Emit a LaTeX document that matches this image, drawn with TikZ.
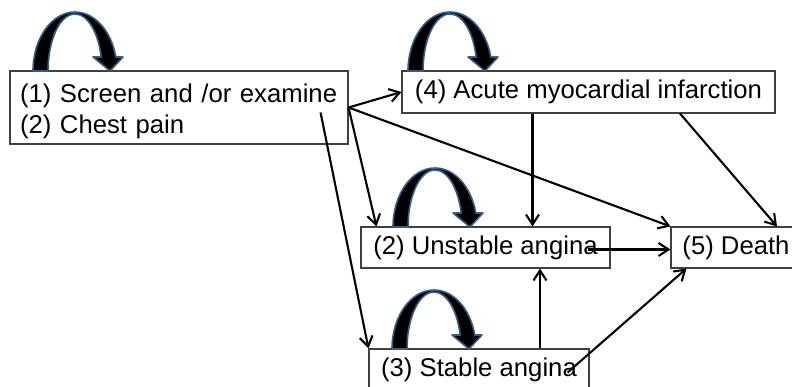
\documentclass[tikz,border=0pt]{standalone}
\usepackage{fontspec}
\setmainfont{Liberation Sans}
\usetikzlibrary{arrows.meta}
\definecolor{loopedge}{RGB}{56,93,138}
\definecolor{boxedge}{RGB}{64,64,64}

\begin{document}
\begin{tikzpicture}[x=1pt, y=-1pt,
  estado/.style={draw=boxedge, line width=1.1pt, inner sep=0pt, minimum height=41pt, font=\fontsize{25.7}{31}\selectfont},
  flujo/.style={-{Straight Barb[length=10pt, width=13pt]}, line width=2.1pt},
  loopfill/.style={fill=black, draw=loopedge, line width=1.6pt, line join=round},
  selfloop/.pic={\filldraw[loopfill] (0,0) arc[start angle=180, end angle=346.3, x radius=42, y radius=59] -- (90,-14) -- (77,0) -- (60,-14) -- (68.2,-14) arc[start angle=345.8, end angle=180, x radius=27, y radius=57] -- cycle;}]
\useasboundingbox (0,0) rectangle (792,387);
\clip (0,0) rectangle (792,387);
\node[estado, minimum height=73pt, text width=318pt, inner xsep=10pt, align=left] (cribado) at (179,107.5) {\rule{0pt}{27pt}(1) Screen and /or examine\\(2) Chest pain};
\node[estado, minimum width=373pt, minimum height=42pt] (infarto) at (588.5,92) {(4) Acute myocardial infarction};
\node[estado, minimum width=249pt] (inestable) at (485.5,247.5) {(2) Unstable angina};
\node[estado, minimum width=130pt] (muerte) at (736,247.5) {(5) Death};
\node[estado, minimum width=220pt] (estable) at (479,369.5) {(3) Stable angina};
\pic at (33,71) {selfloop};
\pic at (408,71) {selfloop};
\pic at (393,227) {selfloop};
\pic at (392,349) {selfloop};
\draw[flujo] (cribado.east) -- (infarto.west);
\draw[flujo] (cribado.east) -- (muerte.north west);
\draw[flujo] (cribado.east) -- ([xshift=16pt]inestable.north west);
\draw[flujo] ([xshift=-28pt, yshift=-5pt]cribado.east) -- (estable.north west);
\draw[flujo] ([xshift=-56pt]infarto.south) -- ([xshift=-56pt]infarto.south |- inestable.north);
\draw[flujo] ([xshift=91.5pt]infarto.south) -- ([xshift=41pt]muerte.north);
\draw[flujo] ([xshift=-23pt, yshift=-2pt]inestable.east) -- ([yshift=-2pt]muerte.west);
\draw[flujo] ([xshift=61pt]estable.north) -- ([xshift=61pt]estable.north |- inestable.south);
\draw[flujo] ([xshift=-22pt, yshift=-3pt]estable.east) -- ([xshift=16pt]muerte.south west);
\end{tikzpicture}
\end{document}
